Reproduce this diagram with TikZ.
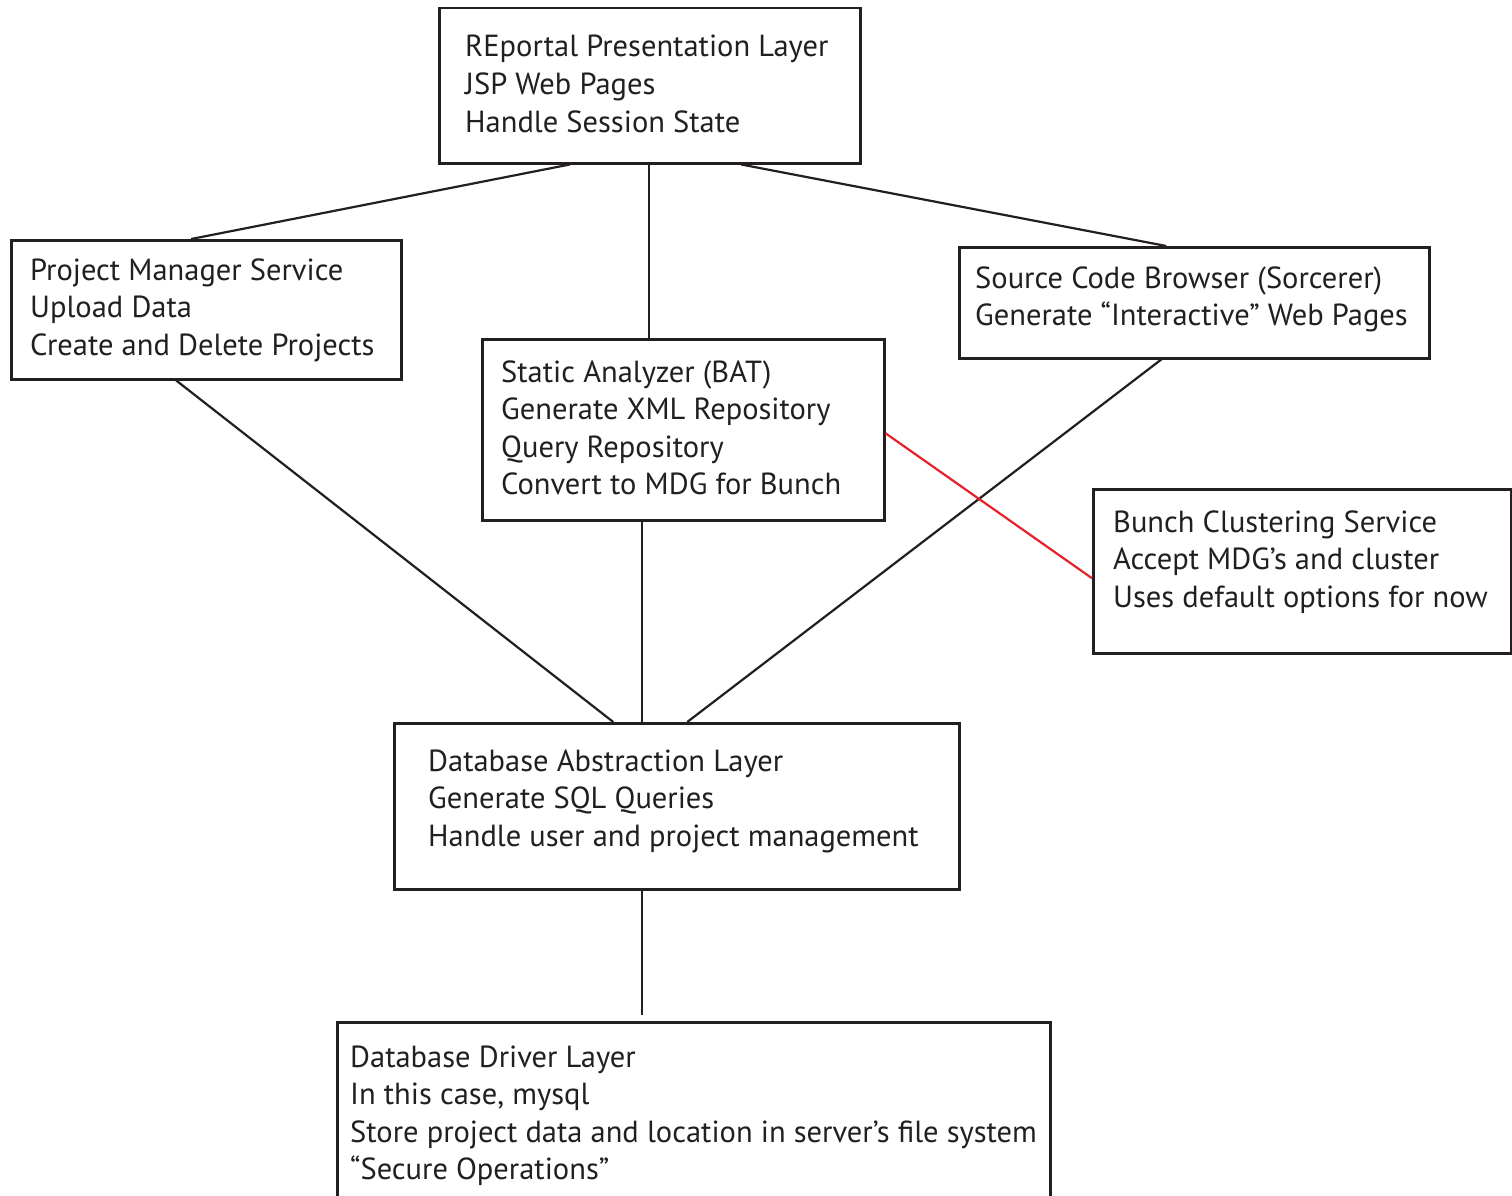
\documentclass[tikz,border=0pt]{standalone}
\usepackage{fontspec}
\setmainfont{PT Sans}
\usetikzlibrary{calc}
\definecolor{ink}{RGB}{35,31,32}
\definecolor{link}{RGB}{232,32,42}
\begin{document}
\begin{tikzpicture}[x=1pt,y=-1pt,
  box/.style={draw=ink,line width=2.5pt,inner sep=0pt,anchor=north west,minimum width=#1},
  txt/.style={anchor=base west,inner sep=0pt,align=left,text=ink,
    font=\fontsize{30.5}{37.5}\selectfont},
  wire/.style={draw=ink,line width=2.2pt},
  redwire/.style={draw=link,line width=2.2pt}]
\useasboundingbox[fill=white] (0,0) rectangle (1512,1196);
\clip (0,0) rectangle (1512,1196);

% service boxes
\node[box=421pt,minimum height=155pt] (pres) at (438,7) {};
\node[box=390pt,minimum height=139pt] (pms)  at (10,239) {};
\node[box=402pt,minimum height=181pt] (sa)   at (481,338) {};
\node[box=470pt,minimum height=111pt] (scb)  at (958,246) {};
\node[box=418pt,minimum height=164pt] (bcs)  at (1092,488) {};
\node[box=565pt,minimum height=166pt] (dal)  at (393,722) {};
\node[box=713pt,minimum height=230pt] (ddl)  at (336,1021) {};

% box texts (placed by the baseline of their last line)
\node[txt] (presT) at (465,132) {REportal Presentation Layer\\JSP Web Pages\\Handle Session State};
\node[txt] (pmsT) at (30,355) {Project Manager Service\\Upload Data\\Create and Delete Projects};
\node[txt] (saT) at (501,494.5) {Static Analyzer (BAT)\\Generate XML Repository\\Query Repository\\Convert to MDG for Bunch};
\node[txt] (scbT) at (975,325.5) {Source Code Browser (Sorcerer)\\Generate “Interactive” Web Pages};
\node[txt] (bcsT) at (1113,607) {Bunch Clustering Service\\Accept MDG’s and cluster\\Uses default options for now};
\node[txt] (dalT) at (428,846) {Database Abstraction Layer\\Generate SQL Queries\\Handle user and project management};
\node[txt] (ddlT) at (350,1179.5) {Database Driver Layer\\In this case, mysql\\Store project data and location in server’s file system\\“Secure Operations”};

% connectors
\draw[wire] ([xshift=-80pt]pres.south) -- ([xshift=-15pt]pms.north);
\draw[wire] ([xshift=-0.5pt]pres.south) -- ([xshift=-34pt]sa.north);
\draw[wire] ([xshift=91.5pt]pres.south) -- ([xshift=-28pt]scb.north);
\draw[wire] ([xshift=-30pt]pms.south) -- ([xshift=-63.5pt]dal.north);
\draw[wire] ([xshift=-41pt]sa.south) -- ([xshift=-34.5pt]dal.north);
\draw[wire] ([xshift=-33pt]scb.south) -- ([xshift=10.5pt]dal.north);
\draw[redwire] ([yshift=-3.5pt]sa.east) -- ([yshift=-7pt]bcs.west);
\draw[wire,shorten >=6pt] ([xshift=-34.5pt]dal.south) -- ([xshift=-51.5pt]ddl.north);
\end{tikzpicture}
\end{document}
